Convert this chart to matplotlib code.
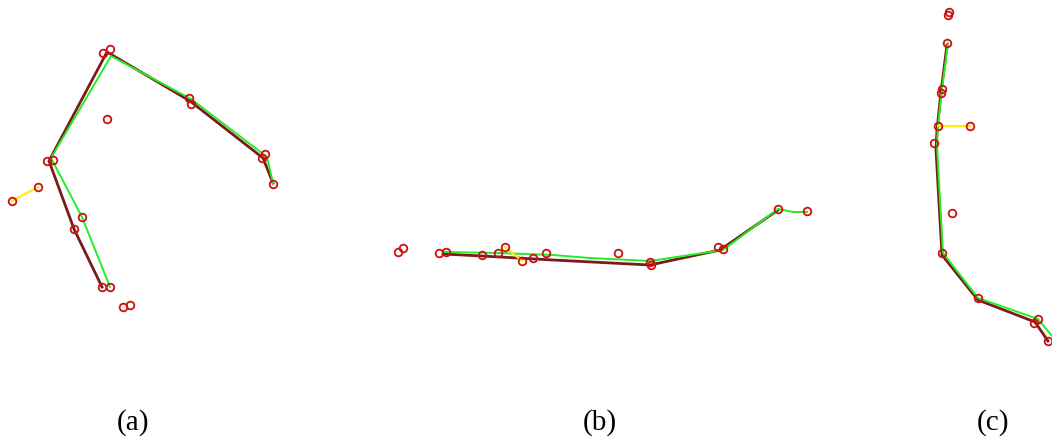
import matplotlib.pyplot as plt

# joint positions, in image pixels (x right, y down)
a_x = [103, 110, 47, 53, 189, 191, 265, 262, 273, 107, 12, 38, 74, 82, 102, 110, 123, 130]
a_y = [53, 49, 161, 160, 98, 104, 154, 158, 184, 119, 201, 187, 229, 217, 287, 287, 307, 305]
a_red_x = [273, 263, 190, 107, 49, 74, 102]
a_red_y = [183, 158, 101, 52, 161, 229, 287]
a_green_x = [273, 267, 191, 111, 51, 82, 110]
a_green_y = [183, 157, 99, 56, 158, 217, 287]
a_yel_x = [12, 38]
a_yel_y = [201, 187]

b_x = [398, 403, 439, 446, 482, 498, 505, 522, 533, 546, 618, 650, 651, 718, 723, 778, 807]
b_y = [252, 248, 253, 252, 255, 253, 247, 261, 258, 253, 253, 262, 265, 247, 249, 209, 211]
b_red_x = [443, 482, 553, 650, 720, 778]
b_red_y = [254, 256, 260, 265, 250, 210]
b_green_x = [443, 498, 553, 590, 650, 723, 778, 793, 807]
b_green_y = [252, 253, 255, 258, 261, 250, 209, 212, 212]
b_yel_x = [505, 522]
b_yel_y = [247, 261]

c_x = [948, 949, 947, 942, 941, 938, 970, 934, 952, 942, 978, 1038, 1034, 1048]
c_y = [15, 12, 43, 89, 93, 126, 126, 143, 213, 253, 298, 319, 323, 341]
c_red_x = [947, 941, 937, 936, 942, 978, 1035, 1048]
c_red_y = [45, 92, 130, 150, 255, 300, 322, 341]
c_green_x = [948, 942, 938, 937, 940, 943, 978, 1038, 1052]
c_green_y = [43, 89, 126, 145, 200, 253, 298, 319, 336]
c_yel_x = [938, 970]
c_yel_y = [126, 126]

labels = ['(a)', '(b)', '(c)']
label_x = [133, 600, 993]

fig = plt.figure(figsize=(10.52, 4.37), dpi=100)
ax = fig.add_axes([0, 0, 1, 1])
ax.set_xlim(0, 1052)
ax.set_ylim(437, 0)
ax.axis('off')

panels = [
    (a_x, a_y, a_red_x, a_red_y, a_green_x, a_green_y, a_yel_x, a_yel_y),
    (b_x, b_y, b_red_x, b_red_y, b_green_x, b_green_y, b_yel_x, b_yel_y),
    (c_x, c_y, c_red_x, c_red_y, c_green_x, c_green_y, c_yel_x, c_yel_y),
]
for px, py, rx, ry, gx, gy, yx, yy in panels:
    ax.plot(rx, ry, color='#7a1a1a', lw=2)
    ax.plot(gx, gy, color='#22ee22', lw=1.4)
    ax.plot(yx, yy, color='#ffee00', lw=1.5)
    ax.plot(px, py, 'o', ms=5.5, mfc='none', mec='#cc1111', mew=1.3)

for lab, lx in zip(labels, label_x):
    ax.text(lx, 423, lab, ha='center', va='center', fontsize=21,
            family='Liberation Serif')

fig.savefig('out.png', dpi=100)
